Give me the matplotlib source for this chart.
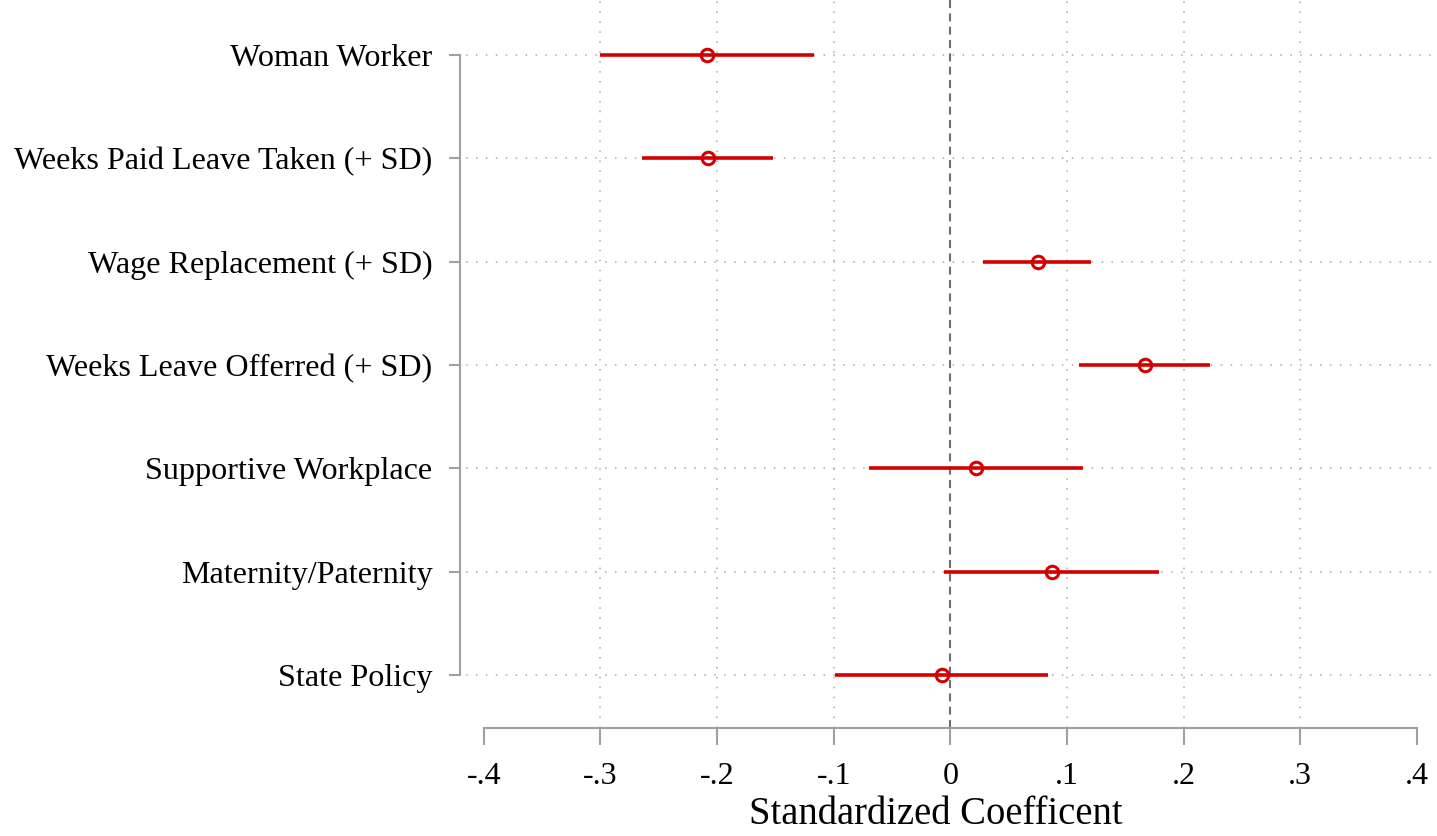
import matplotlib
matplotlib.use("Agg")
import matplotlib.pyplot as plt

# Coefficient estimates with confidence bounds
labels = [
    "Woman Worker",
    "Weeks Paid Leave Taken (+ SD)",
    "Wage Replacement (+ SD)",
    "Weeks Leave Offerred (+ SD)",
    "Supportive Workplace",
    "Maternity/Paternity",
    "State Policy",
]
coef = [-0.209, -0.208, 0.075, 0.167, 0.022, 0.087, -0.007]
ci_low = [-0.300, -0.264, 0.028, 0.110, -0.070, -0.005, -0.099]
ci_high = [-0.117, -0.152, 0.121, 0.223, 0.114, 0.179, 0.084]

xticks = [-0.4, -0.3, -0.2, -0.1, 0.0, 0.1, 0.2, 0.3, 0.4]
xtick_labels = ["-.4", "-.3", "-.2", "-.1", "0", ".1", ".2", ".3", ".4"]
xgrid = [-0.3, -0.2, -0.1, 0.1, 0.2, 0.3]
xlabel = "Standardized Coefficent"

plt.rcParams["font.family"] = ["Liberation Serif", "DejaVu Serif"]

W, H, DPI = 1437, 836, 100
fig = plt.figure(figsize=(W / DPI, H / DPI), dpi=DPI)
ax = fig.add_axes([466 / W, (H - 728) / H, (W - 466) / W, 728 / H])

red = "#d40000"
grid_c = "#a8a8a8"
axis_c = "#a0a0a0"

ypos = list(range(len(labels)))

# dotted reference grid
for y in ypos:
    ax.axhline(y, color=grid_c, lw=1.1, ls=(0, (1, 5.5)), zorder=1)
for x in xgrid:
    ax.axvline(x, color=grid_c, lw=1.1, ls=(0, (1, 5.5)), zorder=1)

# zero line
ax.axvline(0, color="#6e6e6e", lw=1.5, ls=(0, (3.8, 2.6)), zorder=2)

# confidence intervals and point estimates
ax.hlines(ypos, ci_low, ci_high, color=red, lw=2.6, zorder=3)
ax.plot(coef, ypos, "o", ms=9, mfc="none", mec=red, mew=2.2, zorder=4)

# scales
ax.set_xlim((466 - 950.3) / 1166.5, (1437 - 950.3) / 1166.5)
ax.set_ylim(6 + 53 / 103.33, -55 / 103.33)

ax.set_xticks(xticks)
ax.set_xticklabels(xtick_labels)
ax.set_yticks(ypos)
ax.set_yticklabels(labels)

for s in ["top", "right"]:
    ax.spines[s].set_visible(False)
ax.spines["bottom"].set_bounds(-0.4, 0.4)
ax.spines["left"].set_bounds(0, 6)
ax.spines["left"].set_position(("outward", 4.3))
for s in ["bottom", "left"]:
    ax.spines[s].set_color(axis_c)
    ax.spines[s].set_linewidth(1.5)

ax.tick_params(axis="x", length=12.2, width=1.5, color=axis_c, pad=12,
               labelsize=23, labelcolor="black")
ax.tick_params(axis="y", length=7.9, width=1.5, color=axis_c, pad=12,
               labelsize=23.1, labelcolor="black")

ax.set_xlabel(xlabel, fontsize=27.8)
ax.xaxis.set_label_coords((936 - 466) / (W - 466), (728 - 815) / 728)
ax.xaxis.label.set_va("center")

fig.savefig("out.png", dpi=DPI)
